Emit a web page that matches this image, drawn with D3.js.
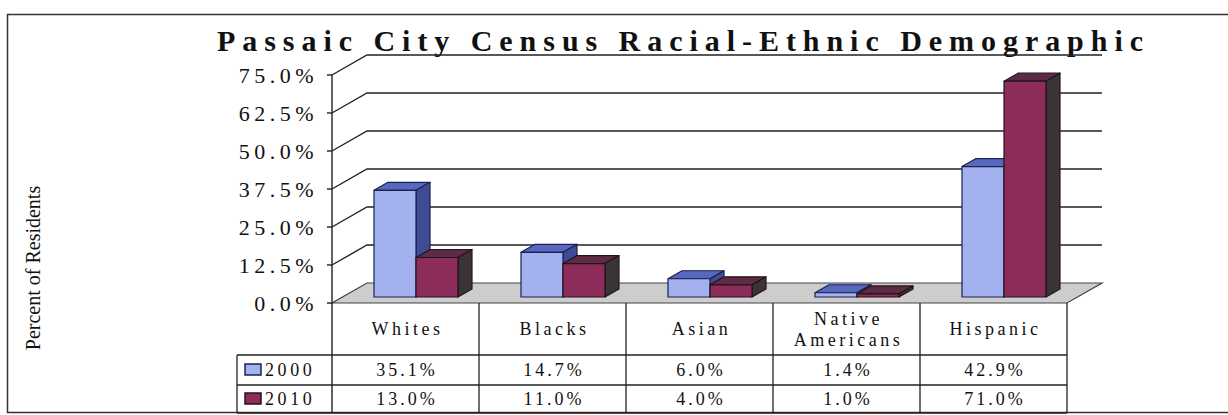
<!DOCTYPE html>
<html>
<head>
<meta charset="utf-8">
<script src="https://cdn.jsdelivr.net/npm/d3@7"></script>
<style>
  body { margin: 0; background: #fff; }
  svg { display: block; }
</style>
</head>
<body>
<div id="chart"></div>
<script>
// Chart data
const categories = ["Whites", "Blacks", "Asian", "Native Americans", "Hispanic"];
const years = ["2000", "2010"];
const values2000 = [35.1, 14.7, 6.0, 1.4, 42.9];
const values2010 = [13.0, 11.0, 4.0, 1.0, 71.0];
const tickValues = [0, 12.5, 25, 37.5, 50, 62.5, 75];
const tableRows = [values2000, values2010];

const width = 1228, height = 415;
const depth = { dx: 35, dy: -20 };   // 3d offset of the back wall
const f0 = 0.3, f1 = 0.7;             // bar depth within floor
const serif = "'Times New Roman', 'Liberation Serif', serif";

const colors = {
    "2000": { front: "#a3b1ef", top: "#5868bf", side: "#3e4b96", stroke: "#1c2150" },
    "2010": { front: "#8c2c5a", top: "#5e2b45", side: "#3a3436", stroke: "#241418" }
};

const svg = d3.select("#chart").append("svg")
    .attr("width", width)
    .attr("height", height)
    .style("font-family", serif);

// scales
const x = d3.scaleBand().domain(categories).range([332, 1067]);
const y = d3.scaleLinear().domain([0, 75]).range([303, 75]);
const xs = d3.scaleBand().domain(years).range([0, 84]);

// outer frame
svg.append("rect")
    .attr("x", 7.5).attr("y", 14.5)
    .attr("width", width + 20).attr("height", 398)
    .attr("fill", "none").attr("stroke", "#333").attr("stroke-width", 1.5);

// title
svg.append("text")
    .attr("x", 217).attr("y", 51)
    .attr("textLength", 926)
    .attr("lengthAdjust", "spacing")
    .attr("fill", "#111")
    .style("font-size", "30px")
    .style("font-weight", "bold")
    .text("Passaic City Census Racial-Ethnic Demographic");

// y axis label
svg.append("text")
    .attr("transform", "translate(40,268) rotate(-90)")
    .attr("text-anchor", "middle")
    .attr("fill", "#111")
    .style("font-size", "20px")
    .text("Percent of Residents");

// floor
const x0 = x.range()[0], x1 = x.range()[1];
svg.append("path")
    .attr("d", `M${x0},${y(0)}L${x1},${y(0)}L${x1 + depth.dx},${y(0) + depth.dy}L${x0 + depth.dx},${y(0) + depth.dy}Z`)
    .attr("fill", "#cdcdcd")
    .attr("stroke", "#444")
    .attr("stroke-width", 1.2);

// gridlines on the back wall + diagonal connectors
const grid = svg.append("g").attr("stroke", "#222").attr("stroke-width", 1.4).attr("fill", "none");
tickValues.forEach(v => {
    if (v > 0) {
        grid.append("path")
            .attr("d", `M${x0},${y(v)}L${x0 + depth.dx},${y(v) + depth.dy}L${x1 + depth.dx},${y(v) + depth.dy}`);
    }
    grid.append("line")
        .attr("x1", x0 - 5).attr("x2", x0)
        .attr("y1", y(v)).attr("y2", y(v));
});

// axis line (continues down through the table)
svg.append("line")
    .attr("x1", x0).attr("x2", x0)
    .attr("y1", y(75)).attr("y2", 413)
    .attr("stroke", "#222").attr("stroke-width", 1.4);

// tick labels
svg.append("g").selectAll("text")
    .data(tickValues)
    .enter().append("text")
    .attr("x", 318)
    .attr("y", d => y(d) + 8)
    .attr("text-anchor", "end")
    .attr("fill", "#111")
    .style("font-size", "22px")
    .style("letter-spacing", "4.5px")
    .text(d => d.toFixed(1) + "%");

// 3d bars
const ddx = (f1 - f0) * depth.dx, ddy = (f1 - f0) * depth.dy;
const bars = svg.append("g");
categories.forEach((c, i) => {
    const groupLeft = x(c) + x.bandwidth() / 2 - xs.range()[1] / 2;
    years.forEach((yr, j) => {
        const v = tableRows[j][i];
        const col = colors[yr];
        const bx0 = groupLeft + xs(yr) + f0 * depth.dx;
        const bx1 = bx0 + xs.bandwidth();
        const yTop = y(v) + f0 * depth.dy;
        const yBot = y(0) + f0 * depth.dy;
        const g = bars.append("g").attr("stroke", col.stroke).attr("stroke-width", 1.2).attr("stroke-linejoin", "round");
        g.append("path")
            .attr("d", `M${bx0},${yTop}L${bx1},${yTop}L${bx1 + ddx},${yTop + ddy}L${bx0 + ddx},${yTop + ddy}Z`)
            .attr("fill", col.top);
        g.append("path")
            .attr("d", `M${bx1},${yTop}L${bx1 + ddx},${yTop + ddy}L${bx1 + ddx},${yBot + ddy}L${bx1},${yBot}Z`)
            .attr("fill", col.side);
        g.append("rect")
            .attr("x", bx0).attr("y", yTop)
            .attr("width", xs.bandwidth()).attr("height", yBot - yTop)
            .attr("fill", col.front);
    });
});

// data table
const rowY = [303, 355, 385, 413];
const legendLeft = 237;
const table = svg.append("g").attr("stroke", "#222").attr("stroke-width", 1.3);
[rowY[1], rowY[2], rowY[3]].forEach(ry => {
    table.append("line").attr("x1", legendLeft).attr("x2", x1).attr("y1", ry).attr("y2", ry);
});
table.append("line").attr("x1", legendLeft).attr("x2", legendLeft).attr("y1", rowY[1]).attr("y2", rowY[3]);
categories.forEach(c => {
    const cx = x(c) + x.bandwidth();
    table.append("line").attr("x1", cx).attr("x2", cx).attr("y1", rowY[0]).attr("y2", rowY[3]);
});

// header labels
const header = svg.append("g");
categories.forEach(c => {
    const words = c.split(" ");
    const cx = x(c) + x.bandwidth() / 2;
    const lines = words.length > 1 ? words : [c];
    const lh = 21;
    const startY = 335 - (lines.length - 1) * lh / 2;
    lines.forEach((w, k) => {
        header.append("text")
            .attr("x", cx + 2)
            .attr("y", startY + k * lh)
            .attr("text-anchor", "middle")
            .attr("fill", "#111")
            .style("font-size", "18px")
            .style("letter-spacing", "3.5px")
            .text(w);
    });
});

// value rows
tableRows.forEach((vals, r) => {
    const cy = (rowY[r + 1] + rowY[r + 2]) / 2 + 6;
    vals.forEach((v, i) => {
        svg.append("text")
            .attr("x", x(categories[i]) + x.bandwidth() / 2 + 1.5)
            .attr("y", cy)
            .attr("text-anchor", "middle")
            .attr("fill", "#111")
            .style("font-size", "18px")
            .style("letter-spacing", "3px")
            .text(v.toFixed(1) + "%");
    });
    // legend cell
    const yr = years[r];
    svg.append("rect")
        .attr("x", 245).attr("y", cy - 12)
        .attr("width", 16).attr("height", 11)
        .attr("fill", colors[yr].front)
        .attr("stroke", colors[yr].stroke).attr("stroke-width", 1.5);
    svg.append("text")
        .attr("x", 265).attr("y", cy)
        .attr("fill", "#111")
        .style("font-size", "18px")
        .style("letter-spacing", "3.6px")
        .text(yr);
});
</script>
</body>
</html>
